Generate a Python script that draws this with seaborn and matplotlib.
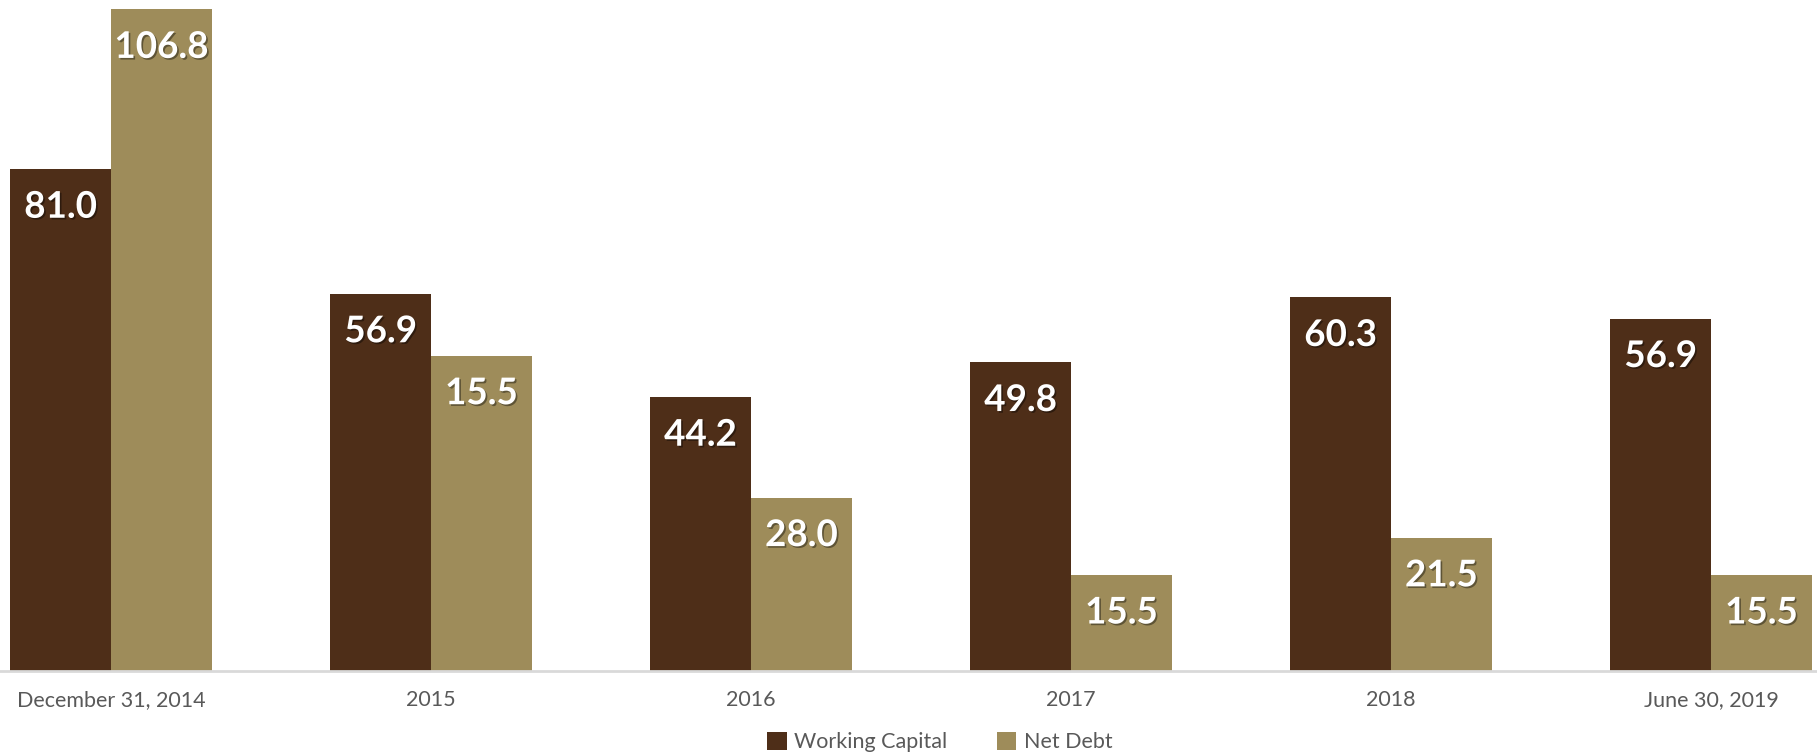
import matplotlib
matplotlib.use("Agg")
import matplotlib.pyplot as plt
import matplotlib.patheffects as pe
import seaborn as sns
import pandas as pd

categories = ["December 31, 2014", "2015", "2016", "2017", "2018", "June 30, 2019"]
series_names = ["Working Capital", "Net Debt"]
# bar heights as drawn in the reference
working_capital = [81.0, 60.9, 44.2, 49.8, 60.3, 56.9]
net_debt = [106.8, 50.9, 28.0, 15.5, 21.5, 15.5]
# printed data labels
working_capital_labels = ["81.0", "56.9", "44.2", "49.8", "60.3", "56.9"]
net_debt_labels = ["106.8", "15.5", "28.0", "15.5", "21.5", "15.5"]

colors = ["#4E2E18", "#9E8C5A"]

df = pd.DataFrame({
    "period": categories * 2,
    "series": [series_names[0]] * len(categories) + [series_names[1]] * len(categories),
    "value": working_capital + net_debt,
})

sns.set_theme(style="white")
plt.rcParams["font.family"] = ["Lato", "DejaVu Sans"]

fig = plt.figure(figsize=(18.17, 7.54), dpi=100)
ax = fig.add_axes([0, 83 / 754, 1, 671 / 754])

sns.barplot(data=df, x="period", y="value", hue="series", palette=colors,
            width=0.63, saturation=1, ax=ax, legend=True, edgecolor="none")

ax.set_xlim(-111 / 320, (1817 - 111) / 320)
ax.set_ylim(0, 671 / 6.195)
for s in ["top", "left", "right"]:
    ax.spines[s].set_visible(False)
ax.spines["bottom"].set_color("#d9d9d9")
ax.spines["bottom"].set_linewidth(2)
ax.set_yticks([])
ax.set_xlabel("")
ax.set_ylabel("")
ax.tick_params(axis="x", length=0, pad=14, labelsize=15.5, labelcolor="#595959")

label_sets = [working_capital_labels, net_debt_labels]
for container, labels in zip(ax.containers, label_sets):
    for patch, lab in zip(container.patches, labels):
        x = patch.get_x() + patch.get_width() / 2
        y = patch.get_height()
        ax.annotate(lab, (x, y), xytext=(0, -27.4), textcoords="offset points",
                    ha="center", va="center", color="white", fontsize=26.5,
                    fontweight="bold",
                    path_effects=[pe.SimplePatchShadow(offset=(1.2, -1.2), shadow_rgbFace="black", alpha=0.4),
                                  pe.Normal()])

leg = ax.legend(loc="center", bbox_to_anchor=(940 / 1817, 12 / 754), bbox_transform=fig.transFigure,
                ncol=2, frameon=False, fontsize=15.5, handlelength=0.9, handleheight=0.9,
                handletextpad=0.35, columnspacing=2.3, borderaxespad=0)
for t in leg.get_texts():
    t.set_color("#595959")

fig.savefig("out.png", dpi=100)
